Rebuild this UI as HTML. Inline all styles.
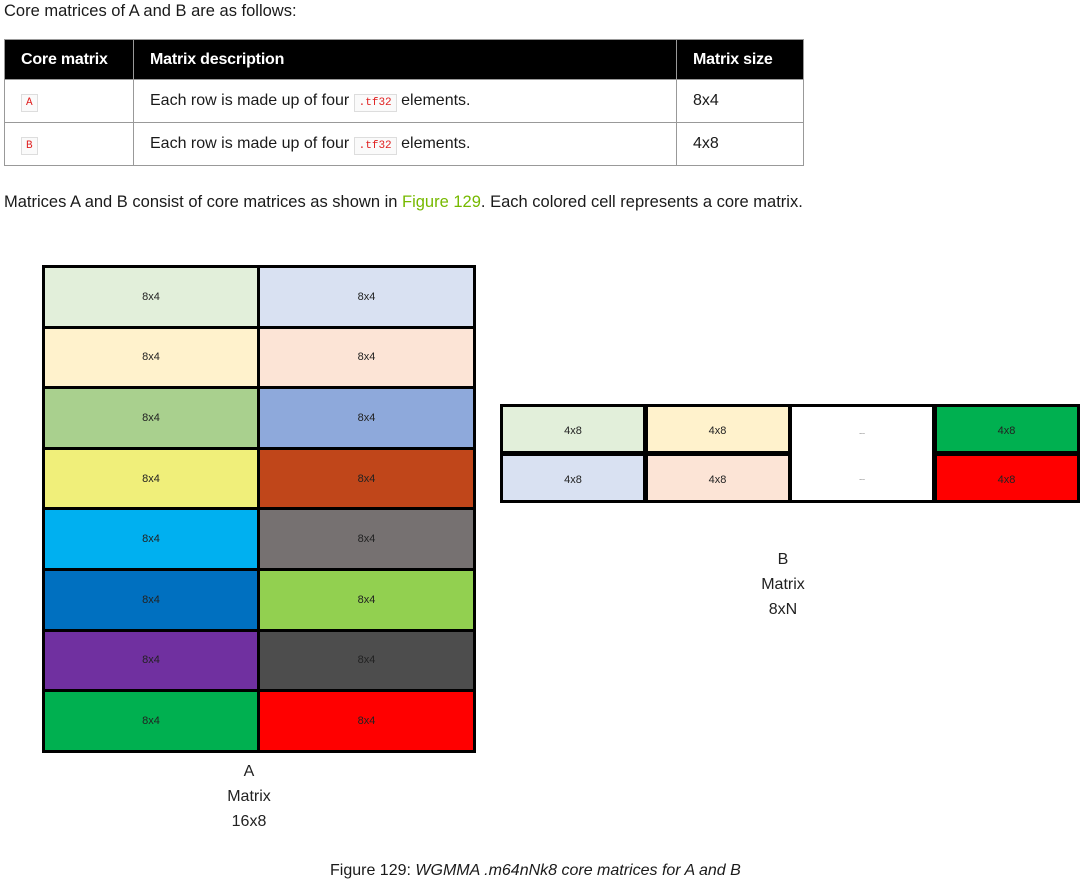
<!DOCTYPE html>
<html><head><meta charset="utf-8"><style>
body{margin:0;width:1085px;height:884px;background:#fff;font-family:"Liberation Sans",sans-serif;color:#1a1a1a;position:relative;overflow:hidden}
.a{position:absolute}
.t{font-size:16.5px}
table{position:absolute;left:4px;top:39px;border-collapse:collapse;font-size:16px}
th{background:#000;color:#fff;text-align:left;font-weight:bold;height:39px;padding:0 0 0 16px;border:1px solid #999;letter-spacing:-0.2px}
td{height:42px;border:1px solid #999;padding:0 0 0 16px}
code{font-family:"Liberation Mono",monospace;font-size:11px;color:#e02020;border:1px solid #ddd;background:#fafafa;padding:2px 4px;letter-spacing:0}
.cell{position:absolute;box-sizing:border-box;border:1.5px solid #000;font-size:11px;display:flex;align-items:center;justify-content:center;color:#222}
.lbl{position:absolute;text-align:center;font-size:16px;line-height:25px;color:#222}
</style></head><body>
<div class="a t" style="left:4px;top:2px">Core matrices of A and B are as follows:</div>
<table>
<tr><th style="width:112px">Core matrix</th><th style="width:526px">Matrix description</th><th style="width:110px">Matrix size</th></tr>
<tr><td><code>A</code></td><td>Each row is made up of four <code>.tf32</code> elements.</td><td>8x4</td></tr>
<tr><td><code>B</code></td><td>Each row is made up of four <code>.tf32</code> elements.</td><td>4x8</td></tr>
</table>
<div class="a t" style="left:4px;top:193px">Matrices A and B consist of core matrices as shown in <span style="color:#76b900">Figure 129</span>. Each colored cell represents a core matrix.</div>
<div id="A" class="a" style="left:42px;top:265px;width:434px;height:488px"></div>
<div id="B" class="a" style="left:500px;top:404px;width:579px;height:98px"></div>
<div class="lbl" style="left:199px;top:759px;width:100px">A<br>Matrix<br>16x8</div>
<div class="lbl" style="left:733px;top:547px;width:100px">B<br>Matrix<br>8xN</div>
<div class="a" style="left:330px;top:862px;font-size:16px">Figure 129: <i>WGMMA .m64nNk8 core matrices for A and B</i></div>
<script>
const aColors=[["#e2efda","#d9e1f2"],["#fff2cc","#fce4d6"],["#a9d08e","#8ea9db"],["#f0ef7a","#c0461a"],["#00b0f0","#767171"],["#0070c0","#92d050"],["#7030a0","#4d4d4d"],["#00b050","#ff0000"]];
const bColors=[["#e2efda","#fff2cc","#fff","#00b050"],["#d9e1f2","#fce4d6","#fff","#ff0000"]];
const bText=["4x8","4x8","...","4x8"];
const A=document.getElementById('A');
const rh=60.6;
aColors.forEach((r,i)=>r.forEach((c,j)=>{const d=document.createElement('div');d.className='cell';


d.style.cssText=`left:${j?215:0}px;top:${i*rh}px;width:${j?219:218}px;height:${rh+3}px;background:${c};border-width:3px`;d.textContent='8x4';A.appendChild(d);}));
const B=document.getElementById('B');
bColors.forEach((r,i)=>r.forEach((c,j)=>{const d=document.createElement('div');d.className='cell';


d.style.cssText=`left:${j*144.5}px;top:${i*48.5}px;width:${146}px;height:${50}px;background:${c};border-width:3px;padding-top:4px;${j==2?(i==0?'border-bottom:none;':'border-top:none;'):''}`;d.textContent=bText[j];if(j==2)d.style.fontSize='7px';B.appendChild(d);}));
</script>
</body></html>
